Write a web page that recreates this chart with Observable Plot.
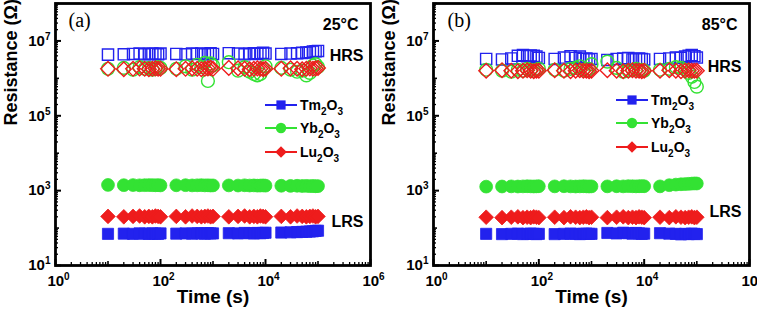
<!DOCTYPE html>
<html><head><meta charset="utf-8">
<script src="https://cdn.jsdelivr.net/npm/d3@7"></script>
<script src="https://cdn.jsdelivr.net/npm/@observablehq/plot@0.6"></script>
<style>
body{margin:0;background:#fff;}
#wrap{display:flex;width:757px;height:315px;overflow:hidden;}
svg{font-family:"Liberation Sans",Arial,sans-serif;}
</style></head><body><div id="wrap"></div>
<script>
const times = [10,20,30,40,50,60,70,80,90,100,200,300,400,500,600,700,800,900,1000,2000,3000,4000,5000,6000,7000,8000,9000,10000,20000,30000,40000,50000,60000,70000,80000,90000,100000];

const xMajor = [1,100,10000,1000000];
const xMinorTicks = [2,3,4,5,6,7,8,9,20,30,40,50,60,70,80,90,200,300,400,500,600,700,800,900,2000,3000,4000,5000,6000,7000,8000,9000,20000,30000,40000,50000,60000,70000,80000,90000,200000,300000,400000,500000,600000,700000,800000,900000];
const xTenTicks = [10,1000,100000];
const yMajor = [10,1000,100000,10000000];
const yTenTicks = [100,10000,1000000,100000000];
const yMinorTicks = [20,30,40,50,60,70,80,90,200,300,400,500,600,700,800,900,2000,3000,4000,5000,6000,7000,8000,9000,20000,30000,40000,50000,60000,70000,80000,90000,200000,300000,400000,500000,600000,700000,800000,900000,2e6,3e6,4e6,5e6,6e6,7e6,8e6,9e6,2e7,3e7,4e7,5e7,6e7,7e7,8e7,9e7];

const seriesNames = ["Tm2O3","Yb2O3","Lu2O3"];
const seriesColors = ["#2222ee","#33e233","#ee1c1c"];

// Panel (a) 25°C
const aTmHRS = [4.3e6,4.4e6,4.5e6,4.6e6,4.4e6,4.5e6,4.6e6,4.5e6,4.4e6,4.6e6,
 4.5e6,4.4e6,4.6e6,4.5e6,4.6e6,4.4e6,4.5e6,4.7e6,4.5e6,
 4.7e6,4.6e6,4.4e6,4.6e6,4.7e6,4.5e6,4.6e6,4.8e6,4.6e6,
 4.5e6,4.6e6,4.7e6,4.8e6,4.9e6,5.0e6,5.2e6,5.3e6,5.4e6];
const aYbHRS = [1.8e6,1.9e6,1.7e6,2.0e6,1.8e6,1.9e6,1.7e6,1.8e6,2.0e6,1.9e6,
 1.8e6,2.1e6,1.7e6,2.3e6,2.0e6,2.6e6,0.85e6,2.5e6,2.2e6,
 2.7e6,1.6e6,2.0e6,1.5e6,1.3e6,1.2e6,1.3e6,1.8e6,2.1e6,
 1.9e6,1.7e6,1.5e6,1.6e6,1.2e6,1.4e6,2.2e6,2.4e6,2.0e6];
const aLuHRS = [1.8e6,1.75e6,1.8e6,1.85e6,1.8e6,1.75e6,1.8e6,1.85e6,1.8e6,1.8e6,
 1.75e6,1.8e6,1.85e6,1.8e6,1.75e6,1.8e6,1.85e6,1.9e6,1.8e6,
 1.9e6,1.85e6,1.8e6,1.75e6,1.8e6,1.85e6,1.8e6,1.75e6,1.8e6,
 1.8e6,1.85e6,1.8e6,1.75e6,1.8e6,1.85e6,1.8e6,1.85e6,1.9e6];
const aTmLRS = [70,71,70,72,71,70,72,71,70,72,
 71,72,71,73,72,71,73,72,72,
 73,72,74,73,72,74,73,74,75,
 76,77,78,79,80,81,82,84,85];
const aYbLRS = [1420,1400,1410,1390,1400,1410,1400,1390,1400,1380,
 1390,1400,1380,1390,1400,1380,1390,1370,1380,
 1380,1370,1390,1370,1380,1360,1370,1380,1360,
 1350,1340,1350,1330,1340,1320,1330,1310,1320];
const aLuLRS = [205,200,205,210,200,205,200,210,205,200,
 205,200,210,205,200,205,210,200,205,
 200,205,210,200,205,200,210,205,200,
 205,200,210,205,200,205,210,200,205];

// Panel (b) 85°C
const bTmHRS = [3.3e6,3.2e6,3.4e6,4.0e6,4.2e6,3.9e6,4.1e6,4.0e6,3.8e6,3.5e6,
 3.3e6,3.6e6,3.9e6,3.5e6,3.8e6,3.3e6,3.4e6,3.2e6,3.3e6,
 3.1e6,3.3e6,3.4e6,3.5e6,3.2e6,3.3e6,3.4e6,3.3e6,3.2e6,
 3.3e6,3.4e6,3.6e6,3.5e6,3.8e6,4.0e6,4.2e6,3.9e6,3.6e6];
const bYbHRS = [1.7e6,1.6e6,1.5e6,1.7e6,1.6e6,1.8e6,1.7e6,1.6e6,1.7e6,1.8e6,
 1.7e6,1.6e6,1.8e6,1.9e6,2.1e6,1.7e6,1.6e6,1.8e6,2.4e6,
 2.8e6,1.9e6,1.5e6,1.6e6,1.7e6,1.8e6,1.6e6,1.7e6,1.6e6,
 1.7e6,1.8e6,2.0e6,1.9e6,1.7e6,1.4e6,1.1e6,0.8e6,0.6e6];
const bLuHRS = [1.6e6,1.65e6,1.6e6,1.55e6,1.6e6,1.65e6,1.6e6,1.55e6,1.6e6,1.6e6,
 1.65e6,1.6e6,1.55e6,1.6e6,1.65e6,1.6e6,1.6e6,1.55e6,1.6e6,
 1.65e6,1.6e6,1.55e6,1.6e6,1.65e6,1.6e6,1.6e6,1.55e6,1.6e6,
 1.6e6,1.65e6,1.6e6,1.55e6,1.6e6,1.65e6,1.6e6,1.6e6,1.6e6];
const bTmLRS = [70,69,70,71,69,70,71,70,69,70,
 69,70,71,70,69,70,71,70,70,
 74,72,75,73,71,74,72,70,71,
 73,71,70,68,70,69,71,70,69];
const bYbLRS = [1280,1290,1300,1290,1300,1310,1300,1290,1300,1310,
 1300,1310,1300,1290,1300,1310,1300,1290,1300,
 1300,1310,1300,1320,1310,1300,1310,1320,1310,
 1300,1400,1450,1480,1500,1520,1540,1560,1550];
const bLuLRS = [195,190,195,200,190,195,190,200,195,190,
 195,190,200,195,190,195,200,190,195,
 190,195,200,190,195,190,200,195,190,
 195,190,200,195,190,195,200,190,195];

const symbols = ["square","circle","diamond2"];
const symR = [6.3, 6.4, 6.6];

function rows(vals){ return times.map((t,i)=>({t, r: vals[i]})); }

function makePanel(cfg){
  const W = cfg.width, mL = 55, mR = 8, mT = 3, mB = 50, H = 315;
  const FW = W - mL - mR, FH = H - mT - mB;
  const marks = [];
  cfg.hrs.forEach((v,i)=>{
    marks.push(Plot.dot(rows(v), {x:"t", y:"r", symbol: symbols[i], r: symR[i], stroke: seriesColors[i], fill:"none", strokeWidth:1.4}));
  });
  cfg.lrs.forEach((v,i)=>{
    marks.push(Plot.dot(rows(v), {x:"t", y:"r", symbol: symbols[i], r: symR[i], fill: seriesColors[i], stroke: seriesColors[i], strokeWidth:0.8}));
  });
  marks.push(Plot.tickX(xMajor, {x:d=>d, insetTop: FH-6, strokeWidth:2}));
  marks.push(Plot.tickX(xTenTicks, {x:d=>d, insetTop: FH-4, strokeWidth:1.6}));
  marks.push(Plot.tickX(xMinorTicks, {x:d=>d, insetTop: FH-3, strokeWidth:1.3}));
  marks.push(Plot.tickY(yMajor, {y:d=>d, insetRight: FW-6, strokeWidth:2}));
  marks.push(Plot.tickY(yTenTicks, {y:d=>d, insetRight: FW-4, strokeWidth:1.6}));
  marks.push(Plot.tickY(yMinorTicks, {y:d=>d, insetRight: FW-3, strokeWidth:1.3}));
  marks.push(Plot.frame({stroke:"black", strokeWidth:2.8}));
  marks.push(Plot.axisX({ticks: xMajor, tickSize:0, tickPadding:10, dx:3, tickFormat: d=>"10^"+Math.round(Math.log10(d)), fontSize:15, fontWeight:"bold", label:null}));
  marks.push(Plot.axisY({ticks: yMajor, tickSize:0, tickPadding:5, dy:0, tickFormat: d=>"10^"+Math.round(Math.log10(d)), fontSize:15, fontWeight:"bold", label:null}));
  marks.push(Plot.text(["Time (s)"], {frameAnchor:"bottom", dy:37, fontSize:19, fontWeight:"bold"}));
  marks.push(Plot.text(["Resistance (Ω)"], {frameAnchor:"left", dx:-44, dy:-9, rotate:-90, fontSize:18, fontWeight:"bold"}));
  marks.push(Plot.text([cfg.tag], {frameAnchor:"top-left", dx:cfg.tagDx, dy:9, lineAnchor:"top", textAnchor:"start", fontFamily:"Liberation Serif, Times New Roman, serif", fontSize:20}));
  marks.push(Plot.text([cfg.temp], {frameAnchor:"top-right", dx:cfg.tempDx, dy:15, lineAnchor:"top", textAnchor:"end", fontSize:16, fontWeight:"bold"}));
  marks.push(Plot.text(["HRS"], {frameAnchor:"top-right", dx:cfg.hrsDx, dy:cfg.hrsDy, lineAnchor:"top", textAnchor:"end", fontSize:16, fontWeight:"bold"}));
  marks.push(Plot.text(["LRS"], {frameAnchor:"top-right", dx:cfg.lrsDx, dy:cfg.lrsDy, lineAnchor:"top", textAnchor:"end", fontSize:16, fontWeight:"bold"}));

  const svg = Plot.plot({
    width: W, height: H,
    marginLeft: mL, marginRight: mR, marginTop: mT, marginBottom: mB,
    style: {fontFamily: "Liberation Sans, Arial, sans-serif", background:"transparent", overflow:"visible"},
    x: {type:"log", domain:[1,1e6]},
    y: {type:"log", domain:[10,1e8]},
    marks
  });

  svg.querySelectorAll('g[aria-label$="tick label"] text').forEach(t=>{
    const s = t.textContent; if (!s.includes("^")) return;
    const [b,e] = s.split("^");
    t.textContent = "";
    const ns = "http://www.w3.org/2000/svg";
    const t1 = document.createElementNS(ns,"tspan"); t1.textContent = b; t.appendChild(t1);
    const t2 = document.createElementNS(ns,"tspan"); t2.textContent = e; t2.setAttribute("font-size","10"); t2.setAttribute("dy","-6"); t.appendChild(t2);
  });

  const g = d3.select(svg).append("g").attr("font-size",14).attr("font-weight","bold").attr("text-anchor","start");
  const d3syms = [d3.symbolSquare, d3.symbolCircle, d3.symbolDiamond2];
  seriesNames.forEach((name,i)=>{
    const y = cfg.legY[i], x0 = cfg.legX;
    g.append("line").attr("x1",x0).attr("x2",x0+32).attr("y1",y).attr("y2",y).attr("stroke",seriesColors[i]).attr("stroke-width",2);
    g.append("path").attr("d", d3.symbol(d3syms[i], 85)()).attr("transform",`translate(${x0+16},${y})`).attr("fill",seriesColors[i]);
    const txt = g.append("text").attr("x",x0+35).attr("y",y+5).attr("text-anchor","start");
    const m = name.match(/^([A-Za-z]+)(\d)(O)(\d)$/);
    txt.append("tspan").text(m[1]);
    txt.append("tspan").text(m[2]).attr("font-size",10).attr("dy",5);
    txt.append("tspan").text(m[3]).attr("dy",-5);
    txt.append("tspan").text(m[4]).attr("font-size",10).attr("dy",5);
  });
  return svg;
}

const wrap = document.getElementById("wrap");
const pa = makePanel({width:378, tag:"(a)", tagDx:13, temp:"25°C", tempDx:-12,
  hrsDx:-7, hrsDy:46, lrsDx:-7, lrsDy:212, legX:265, legY:[105,128,152],
  hrs:[aTmHRS,aYbHRS,aLuHRS], lrs:[aTmLRS,aYbLRS,aLuLRS]});
const pb = makePanel({width:379, tag:"(b)", tagDx:14, temp:"85°C", tempDx:-12,
  hrsDx:-8, hrsDy:57, lrsDx:-8, lrsDy:202, legX:238, legY:[100,123,147],
  hrs:[bTmHRS,bYbHRS,bLuHRS], lrs:[bTmLRS,bYbLRS,bLuLRS]});
pa.style.position = "relative"; pa.style.zIndex = "2";
wrap.appendChild(pa);
wrap.appendChild(pb);
</script></body></html>
